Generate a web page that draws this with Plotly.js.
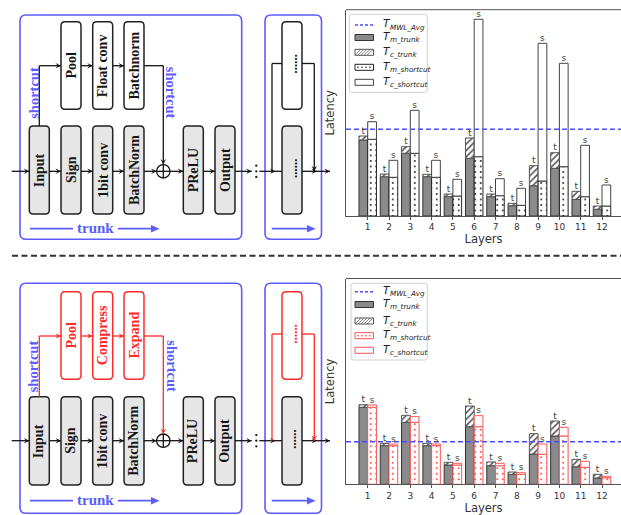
<!DOCTYPE html>
<html>
<head>
<meta charset="utf-8">
<script src="https://cdn.plot.ly/plotly-3.0.1.min.js"></script>
<style>html,body{margin:0;padding:0;background:#fff;}#chart{width:621px;height:515px;}</style>
</head>
<body>
<div id="chart"></div>
<script>
// ---------------- DATA ----------------
const layers = [1,2,3,4,5,6,7,8,9,10,11,12];
const tickLabels = ['1','2','3','4','5','6','7','8','9','10','11','12'];

// top chart (original shortcut)
const tmTrunkTop    = [76.0, 39.3, 62.7, 39.3, 19.3, 57.7, 19.3, 10.3, 30.3, 47.7, 16.7, 6.7];
const tcTrunkTop    = [4.0, 2.7, 6.6, 2.4, 2.7, 20.3, 2.7, 2.4, 20.0, 15.6, 8.0, 3.3];
const tmShortcutTop = [76.7, 38.7, 62.7, 38.7, 20.0, 59.3, 20.3, 10.7, 35.0, 49.3, 19.3, 10.0];
const tcShortcutTop = [17.6, 17.0, 43.0, 17.0, 16.7, 137.4, 17.0, 17.0, 137.7, 103.4, 51.4, 21.0];
const mwlAvgTop = 86.7;

// bottom chart (compressed shortcut)
const tmTrunkBot    = [77.0, 38.6, 62.0, 38.6, 19.3, 57.6, 18.6, 10.0, 30.3, 48.3, 17.6, 6.3];
const tcTrunkBot    = [2.6, 2.4, 7.0, 2.4, 2.7, 20.7, 3.8, 2.3, 20.3, 15.0, 7.4, 3.7];
const tmShortcutBot = [77.0, 38.6, 62.0, 38.6, 19.3, 57.6, 18.6, 10.0, 30.0, 48.3, 17.0, 6.6];
const tcShortcutBot = [2.3, 1.7, 5.6, 1.7, 1.7, 11.0, 2.4, 1.6, 10.3, 8.7, 6.0, 1.4];
const mwlAvgBot = 42.5;

const seriesNames = ['T_MWL_Avg','T_m_trunk','T_c_trunk','T_m_shortcut','T_c_shortcut'];
const legendMain = ['T','T','T','T','T'];
const legendSubs = ['MWL_Avg','m_trunk','c_trunk','m_shortcut','c_shortcut'];
const trunkLower = ['Input','Sign','1bit conv','BatchNorm','PReLU','Output'];
const upperTop = ['Pool','Float conv','Batchnorm'];
const upperBot = ['Pool','Compress','Expand'];

// ---------------- HELPERS ----------------
const W = 621, H = 515;
const X = p => p / W, Y = p => 1 - p / H;
const P = (x, y) => X(x).toFixed(5) + ',' + Y(y).toFixed(5);
const shapes = [], annotations = [];
const BLUE = '#5c5cff', RED = '#ff2a2a', INK = '#151515';
const SERIF = 'Liberation Serif, Times New Roman, serif';
const SANS = 'DejaVu Sans, sans-serif';

function seg(x0, y0, x1, y1, c, w, dash) {
  shapes.push({type:'line', xref:'paper', yref:'paper', x0:X(x0), y0:Y(y0), x1:X(x1), y1:Y(y1),
    line:{color:c || INK, width:w || 1.3, dash:dash || 'solid'}});
}
function poly(pts, fill) {
  shapes.push({type:'path', xref:'paper', yref:'paper',
    path:'M' + pts.map(p => P(p[0], p[1])).join('L') + 'Z', fillcolor:fill, line:{width:0}});
}
function rect(x0, y0, x1, y1, fill, c, w) {
  shapes.push({type:'rect', xref:'paper', yref:'paper', x0:X(x0), y0:Y(y1), x1:X(x1), y1:Y(y0),
    fillcolor:fill, line:{color:c, width:w || 1}});
}
function circ(cx, cy, r, fill, c, w) {
  shapes.push({type:'circle', xref:'paper', yref:'paper', x0:X(cx - r), x1:X(cx + r), y0:Y(cy + r), y1:Y(cy - r),
    fillcolor:fill, line:{color:c, width:w || 0}});
}
function rrect(x0, y0, x1, y1, r, c, fill, w) {
  const d = 'M' + P(x0 + r, y0) + 'L' + P(x1 - r, y0) + 'Q' + P(x1, y0) + ' ' + P(x1, y0 + r) +
    'L' + P(x1, y1 - r) + 'Q' + P(x1, y1) + ' ' + P(x1 - r, y1) +
    'L' + P(x0 + r, y1) + 'Q' + P(x0, y1) + ' ' + P(x0, y1 - r) +
    'L' + P(x0, y0 + r) + 'Q' + P(x0, y0) + ' ' + P(x0 + r, y0) + 'Z';
  shapes.push({type:'path', xref:'paper', yref:'paper', path:d, fillcolor:fill || 'rgba(0,0,0,0)',
    line:{color:c, width:w || 1.5}});
}
function arrowR(x, y, c, len, hw) {
  len = len || 5.5; hw = hw || 2.8;
  poly([[x, y], [x - len, y - hw], [x - len * 0.6, y], [x - len, y + hw]], c || INK);
}
function arrowD(x, y, c, len, hw) {
  len = len || 5.5; hw = hw || 2.8;
  poly([[x, y], [x - hw, y - len], [x, y - len * 0.6], [x + hw, y - len]], c || INK);
}
function txt(x, y, t, size, color, angle, family, xanchor, style, weight) {
  annotations.push({xref:'paper', yref:'paper', x:X(x), y:Y(y), text:t, showarrow:false,
    font:{family:family || SERIF, size:size, color:color || INK, style:style || 'normal', weight:weight || 'normal'},
    textangle:angle || 0, xanchor:xanchor || 'center', yanchor:'middle'});
}

// ---------------- DIAGRAM ----------------
function diagram(g) {
  const {bt, bb, ut, ub, lt, lb, my, sy, sy2, ty, sct, upCol, labels} = g;
  rrect(20, bt, 241.7, bb, 6, BLUE, null, 1.6);
  rrect(265, bt, 321.5, bb, 6, BLUE, null, 1.6);
  const cols = [[29.3,49.3],[61,81],[92.7,112.7],[124,144],[183.3,203.3],[215,235]];
  cols.forEach((c, i) => {
    rrect(c[0], lt, c[1], lb, 4, '#222', '#e6e6e6', 1.5);
    txt((c[0] + c[1]) / 2, (lt + lb) / 2, trunkLower[i], 14, INK, -90, SERIF, 'center', 'normal', 'bold');
  });
  for (let i = 0; i < 3; i++) {
    const c = cols[i + 1];
    rrect(c[0], ut, c[1], ub, 4, upCol === INK ? '#222' : upCol, '#ffffff', 1.5);
    txt((c[0] + c[1]) / 2, (ut + ub) / 2, labels[i], 14, upCol, -90, SERIF, 'center', 'normal', 'bold');
  }
  // second block
  rrect(282, ut, 302, ub, 4, upCol === INK ? '#222' : upCol, '#ffffff', 1.5);
  rrect(282, lt, 302, lb, 4, '#222', '#e6e6e6', 1.5);
  txt(292, (ut + ub) / 2 - 2, '......', 13, upCol, -90, SERIF, 'center', 'normal', 'bold');
  txt(292, (lt + lb) / 2 - 2, '......', 13, INK, -90, SERIF, 'center', 'normal', 'bold');

  // main trunk line
  seg(11.7, my, 29.3, my); arrowR(29.3, my);
  seg(49.3, my, 61, my); arrowR(61, my);
  seg(81, my, 92.7, my); arrowR(92.7, my);
  seg(112.7, my, 124, my); arrowR(124, my);
  seg(144, my, 156.6, my); arrowR(156.6, my);
  seg(170, my, 183.3, my); arrowR(183.3, my);
  seg(203.3, my, 215, my); arrowR(215, my);
  seg(235, my, 251.7, my); arrowR(251.7, my);
  [-5.6, 0, 5.6].forEach(d => circ(256.3, my + d, 1.15, INK, INK, 0));
  seg(259.3, my, 282, my); arrowR(275.5, my);
  seg(302, my, 330, my); arrowR(317, my); arrowR(330, my);
  // adder
  circ(163.3, my, 6.7, 'rgba(0,0,0,0)', INK, 1.3);
  seg(156.6, my, 170, my); seg(163.3, my - 6.7, 163.3, my + 6.7);

  // shortcut path
  const sc = upCol;
  seg(39.3, lt, 39.3, sy, sc); seg(39.3, sy, 61, sy, sc); arrowR(61, sy, sc);
  seg(81, sy, 92.7, sy, sc); arrowR(92.7, sy, sc);
  seg(112.7, sy, 124, sy, sc); arrowR(124, sy, sc);
  seg(144, sy, 163.3, sy, sc); seg(163.3, sy, 163.3, my - 6.7, sc); arrowD(163.3, my - 6.7, sc);
  seg(272, my, 272, sy2, sc); seg(272, sy2, 282, sy2, sc);
  seg(302, sy2, 314.3, sy2, sc); seg(314.3, sy2, 314.3, my, sc); arrowD(314.3, my, sc);

  // trunk arrows
  seg(30, ty, 73, ty, BLUE, 1.8);
  txt(95.5, ty - 0.5, 'trunk', 15, BLUE, 0, SERIF, 'center', 'normal', 'bold');
  seg(118, ty, 152, ty, BLUE, 1.8);
  poly([[159.5, ty], [151, ty - 3.8], [151, ty + 3.8]], BLUE);
  seg(271.7, ty, 308, ty, BLUE, 1.8);
  poly([[315.5, ty], [307, ty - 3.8], [307, ty + 3.8]], BLUE);

  // shortcut labels
  txt(33.3, sct, 'shortcut', 14.5, BLUE, -90, SERIF, 'center', 'normal', 'bold');
  txt(171.7, sct, 'shortcut', 14.5, BLUE, 90, SERIF, 'center', 'normal', 'bold');
}

diagram({bt:15, bb:239.3, ut:21.7, ub:109.3, lt:126, lb:214, my:171.3, sy:65.7, sy2:63.5, ty:228.7, sct:92.5, upCol:INK, labels:upperTop});
diagram({bt:283.3, bb:513.3, ut:291.7, ub:379.3, lt:396.7, lb:485, my:440.7, sy:336, sy2:334, ty:500.7, sct:366, upCol:RED, labels:upperBot});

// separator
seg(12, 255.7, 621, 255.7, '#333', 2, '6px,3.5px');

// ---------------- CHARTS ----------------
const BW = 0.41;
const xr = [-0.019, 12.892];
function sum(a, b) { return a.map((v, i) => v + b[i]); }

function chartTraces(tmT, tcT, tmS, tcS, mwl, xa, ya, red) {
  const sLine = red ? '#ff5555' : '#222';
  const sLine2 = red ? '#ff5555' : '#444';
  const dotC = red ? '#ff2a2a' : '#111';
  const lbl = {family:SANS, size:9, color:'#444444'};
  return [
    {type:'scatter', mode:'lines', x:xr, y:[mwl, mwl], xaxis:xa, yaxis:ya, name:seriesNames[0],
     line:{color:'#4d4dff', width:1.5, dash:'5px,3px'}, showlegend:false, hoverinfo:'skip'},
    {type:'bar', x:layers, y:tmT, offset:-BW, width:BW, xaxis:xa, yaxis:ya, name:seriesNames[1],
     marker:{color:'#8a8a8a', line:{color:'#333', width:1}}, showlegend:false},
    {type:'bar', x:layers, y:tcT, base:tmT, offset:-BW, width:BW, xaxis:xa, yaxis:ya, name:seriesNames[2],
     marker:{color:'#ffffff', line:{color:'#555', width:1},
       pattern:{shape:'/', fgcolor:'#555', bgcolor:'#ffffff', size:4.5, solidity:0.35}}, showlegend:false},
    {type:'bar', x:layers, y:tmS, offset:0, width:BW, xaxis:xa, yaxis:ya, name:seriesNames[3],
     marker:{color:'#ffffff', line:{color:sLine, width:1},
       pattern:{shape:'.', fgcolor:dotC, bgcolor:'#ffffff', size:5.5, solidity:0.09}}, showlegend:false},
    {type:'bar', x:layers, y:tcS, base:tmS, offset:0, width:BW, xaxis:xa, yaxis:ya, name:seriesNames[4],
     marker:{color:'#ffffff', line:{color:sLine2, width:1}}, showlegend:false},
    {type:'scatter', mode:'text', x:layers.map(l => l - BW / 2), y:sum(tmT, tcT), text:layers.map(() => 't'),
     textposition:'top center', textfont:lbl, xaxis:xa, yaxis:ya,
     showlegend:false, hoverinfo:'skip', cliponaxis:false},
    {type:'scatter', mode:'text', x:layers.map(l => l + BW / 2), y:sum(tmS, tcS), text:layers.map(() => 's'),
     textposition:'top center', textfont:lbl, xaxis:xa, yaxis:ya,
     showlegend:false, hoverinfo:'skip', cliponaxis:false}
  ];
}

const traces = [
  ...chartTraces(tmTrunkTop, tcTrunkTop, tmShortcutTop, tcShortcutTop, mwlAvgTop, 'x', 'y', false),
  ...chartTraces(tmTrunkBot, tcTrunkBot, tmShortcutBot, tcShortcutBot, mwlAvgBot, 'x2', 'y2', true)
];

// chart top borders
seg(346, 9.7, 621, 9.7, '#555', 1);
seg(346, 278.5, 621, 278.5, '#555', 1);

// manual legends
function legend(x0, y0, x1, y1, rows, red) {
  rrect(x0, y0, x1, y1, 2.5, '#d0d0d0', 'rgba(255,255,255,0.9)', 1);
  const sx0 = 355, sx1 = 373.5, hh = 3;
  const sc = red ? '#ff5555' : '#222';
  rows.forEach((y, i) => {
    if (i === 0) seg(sx0, y, sx1, y, '#4d4dff', 1.5, '3px,2px');
    if (i === 1) rect(sx0, y - hh, sx1, y + hh, '#8a8a8a', '#333', 1);
    if (i === 2) {
      rect(sx0, y - hh, sx1, y + hh, '#ffffff', '#555', 1);
      for (let s = sx0; s <= sx1 - 6; s += 3) seg(s, y + hh, s + 6, y - hh, '#666', 0.8);
    }
    if (i === 3) {
      rect(sx0, y - hh, sx1, y + hh, '#ffffff', sc, 1);
      for (let s = sx0 + 3; s < sx1 - 1; s += 4) circ(s, y, 0.8, red ? '#ff2a2a' : '#111', red ? '#ff2a2a' : '#111', 0);
    }
    if (i === 4) rect(sx0, y - hh, sx1, y + hh, '#ffffff', red ? '#ff5555' : '#444', 1);
    txt(381.5, y - 1.5, legendMain[i], 10.5, '#222', 0, SANS, 'left', 'italic');
    txt(388.3, y + 2, legendSubs[i], 7.2, '#222', 0, SANS, 'left', 'italic');
  });
}
legend(349.3, 14.3, 427.3, 92.3, [25, 37.5, 52.3, 67.3, 82.3], false);
legend(351, 283.3, 427.3, 360, [291.7, 304.5, 321, 335.7, 350.3], true);

const axX = (anchor) => ({
  domain:[346 / W, 1], range:xr, anchor:anchor, tickvals:layers, ticktext:tickLabels,
  ticks:'outside', ticklen:2.5, tickcolor:'#555', tickfont:{family:SANS, size:9, color:'#333'},
  showline:true, linecolor:'#555', linewidth:1, showgrid:false, zeroline:false,
  title:{text:'Layers', font:{family:SANS, size:11.5, color:'#333'}, standoff:0}
});
const axY = (anchor, d0, d1, top) => ({
  domain:[Y(d0), Y(d1)], range:[0, top], anchor:anchor, showticklabels:false, ticks:'',
  showline:true, linecolor:'#555', linewidth:1, showgrid:false, zeroline:false,
  title:{text:'Latency', font:{family:SANS, size:11.5, color:'#333'}, standoff:7}
});

const layout = {
  width:W, height:H, margin:{l:0, r:0, t:0, b:0}, paper_bgcolor:'#fff', plot_bgcolor:'rgba(0,0,0,0)',
  barmode:'overlay', showlegend:false,
  xaxis:axX('y'), yaxis:axY('x', 216, 9.7, 206.3),
  xaxis2:axX('y2'), yaxis2:axY('x2', 484.3, 278.5, 205.8),
  shapes:shapes, annotations:annotations
};

Plotly.newPlot('chart', traces, layout, {displayModeBar:false, staticPlot:true});
</script>
</body>
</html>
